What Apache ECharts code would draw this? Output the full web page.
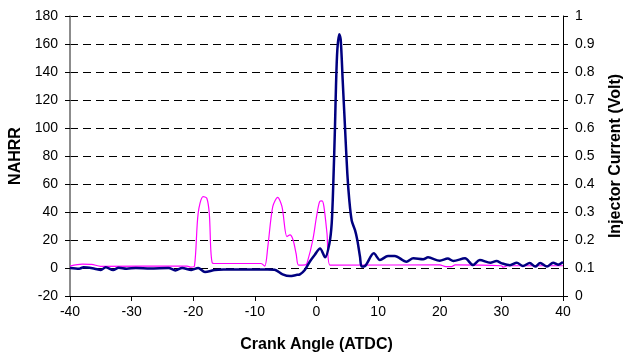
<!DOCTYPE html>
<html>
<head>
<meta charset="utf-8">
<script src="https://cdn.jsdelivr.net/npm/echarts@6/dist/echarts.min.js"></script>
<style>
html,body{margin:0;padding:0;background:#fff;}
#chart{width:623px;height:353px;}
</style>
</head>
<body>
<div id="chart"></div>
<script>
// NAHRR (left axis)
var nahrrAngle = [-40,-38.5,-37.8,-36,-35,-34.2,-33,-32.1,-30.8,-29.3,-27,-24,-22.9,-21.8,-20.3,-19.2,-18.1,-16.5,-14.9,-10,-7.9,-6.8,-5.5,-4.3,-3.3,-2.7,-1.9,-1.1,-0.3,0.57,1.4,2.1,2.47,2.73,3.0,3.16,3.38,3.7,3.93,4.25,4.62,5.0,5.32,5.71,6.25,6.62,7.06,7.33,7.87,9.3,10.3,11.6,12.7,14.6,15.7,17.3,18.1,20.0,21.3,22.2,24.1,25.4,26.5,28.2,29.2,30.1,31.4,32.5,33.5,34.6,35.5,36.3,37.4,38.4,39.2,40];
var nahrrValue = [0,-0.5,0.5,-0.5,-1.4,0.5,-1.5,0.2,-0.5,0,-0.3,0,-1.7,0,-1.4,0,-2.9,-1.4,-1.1,-1,-1,-1.2,-4.5,-5.8,-5,-4.5,-1.4,4.5,9.3,14,7.6,17.6,32,61,101,129.5,155.7,167,163,134,101,67.6,48.6,34,27,20,8,1,1.4,10.5,5.7,8.6,8.6,4.5,6.9,6.2,7.6,5.2,6.7,5,6.9,2.1,5.7,3.8,5,3.3,2,3.8,1.4,3.6,1,3.6,1,3.8,2.4,4.3];
// Injector current (right axis)
var currentAngle = [-40,-38,-36.5,-35,-21,-20.4,-19.8,-19.2,-18.4,-17.8,-17.4,-16.9,-16,-9,-8.4,-7.9,-7.1,-6.3,-5.6,-4.8,-4.3,-3.8,-3.3,-2.9,-1.8,-1.5,-0.6,0.0,0.5,0.9,1.2,1.7,2.2,20,21,21.9,22.5,30,30.3,31,40];
var currentValue = [0.107,0.114,0.113,0.106,0.107,0.103,0.107,0.296,0.355,0.349,0.296,0.118,0.116,0.116,0.107,0.176,0.319,0.352,0.319,0.212,0.218,0.2,0.15,0.11,0.111,0.12,0.2,0.283,0.337,0.34,0.32,0.224,0.11,0.111,0.105,0.105,0.111,0.108,0.103,0.108,0.108];

function pairs(a,b){var r=[];for(var i=0;i<a.length;i++)r.push([a[i],b[i]]);return r;}

var FONT = 'Liberation Sans, Arial, sans-serif';
var chart = echarts.init(document.getElementById('chart'));
chart.setOption({
  animation:false,
  backgroundColor:'#fff',
  grid:{left:70,right:60,top:16,bottom:57,containLabel:false,outerBoundsMode:'none'},
  xAxis:{
    type:'value',min:-40,max:40,interval:10,
    name:'Crank Angle (ATDC)',nameLocation:'middle',nameGap:41,
    nameTextStyle:{fontFamily:FONT,fontSize:16,fontWeight:'bold',color:'#000'},
    axisLine:{onZero:false,lineStyle:{color:'#000',width:1}},
    axisTick:{show:true,inside:false,length:5,lineStyle:{color:'#000'}},
    axisLabel:{fontFamily:FONT,fontSize:14,color:'#000',margin:9},
    splitLine:{show:false}
  },
  yAxis:[{
    type:'value',min:-20,max:180,interval:20,position:'left',
    name:'NAHRR',nameLocation:'middle',nameGap:43,
    nameTextStyle:{fontFamily:FONT,fontSize:16,fontWeight:'bold',color:'#000'},
    axisLine:{show:true,onZero:false,lineStyle:{color:'#666',width:1.5}},
    axisTick:{show:true,length:5,lineStyle:{color:'#000'}},
    axisLabel:{fontFamily:FONT,fontSize:14,color:'#000',margin:12},
    splitLine:{show:true,lineStyle:{color:'#000',width:1,type:[8,5]}}
  },{
    type:'value',min:0,max:1,interval:0.1,position:'right',
    name:'Injector Current (Volt)',nameLocation:'middle',nameGap:45,nameRotate:90,
    nameTextStyle:{fontFamily:FONT,fontSize:16,fontWeight:'bold',color:'#000'},
    axisLine:{show:true,onZero:false,lineStyle:{color:'#000',width:1}},
    axisTick:{show:true,length:5,lineStyle:{color:'#000'}},
    axisLabel:{fontFamily:FONT,fontSize:14,color:'#000',margin:12,
      formatter:function(v){return String(Math.round(v*10)/10);}},
    splitLine:{show:false}
  }],
  series:[{
    name:'Injector Current',type:'line',yAxisIndex:1,
    data:pairs(currentAngle,currentValue),
    showSymbol:false,smooth:0.3,
    lineStyle:{color:'#FF00FF',width:1.2},z:2
  },{
    name:'NAHRR',type:'line',yAxisIndex:0,
    data:pairs(nahrrAngle,nahrrValue),
    showSymbol:false,smooth:0.3,
    lineStyle:{color:'#000080',width:2.5},z:3
  }]
});
</script>
</body>
</html>
